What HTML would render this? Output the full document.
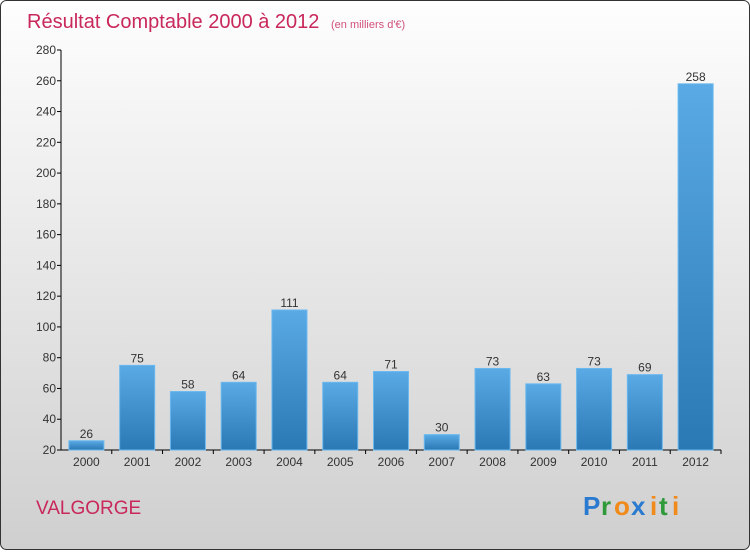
<!DOCTYPE html>
<html><head><meta charset="utf-8"><style>
body{margin:0;width:750px;height:550px;overflow:hidden;font-family:"Liberation Sans",sans-serif}
svg text{font-family:"Liberation Sans",sans-serif}
</style></head><body>
<svg width="750" height="550" xmlns="http://www.w3.org/2000/svg">
<defs>
<linearGradient id="bg" x1="0" y1="0" x2="0" y2="1"><stop offset="0" stop-color="#fefefe"/><stop offset="1" stop-color="#cfcfcf"/></linearGradient>
<linearGradient id="bar" x1="0" y1="0" x2="0" y2="1"><stop offset="0" stop-color="#5aaae6"/><stop offset="1" stop-color="#2a78b4"/></linearGradient>
</defs>
<rect x="0.5" y="0.5" width="749" height="549" rx="6" fill="url(#bg)" stroke="#333"/>
<text x="27" y="28" font-size="20" fill="#c8285a">Résultat Comptable 2000 à 2012 <tspan font-size="11" dx="6" fill="#d0507a">(en milliers d'€)</tspan></text>
<text x="36" y="514" font-size="19" fill="#c8285a">VALGORGE</text>
<g font-size="26" font-weight="bold">
<text x="583" y="515" fill="#2a7ad0">P</text><text x="601" y="515" fill="#2e9a3a">r</text><text x="614" y="515" fill="#f08a1a">o</text><text x="631" y="515" fill="#2a7ad0">x</text><text x="650" y="515" fill="#f08a1a">i</text><text x="659" y="515" fill="#2e9a3a">t</text><text x="672" y="515" fill="#f08a1a">i</text>
</g>
<g id="axes"></g><g id="bars"></g>
</svg>
<script>
const categories=["2000","2001","2002","2003","2004","2005","2006","2007","2008","2009","2010","2011","2012"];
const values=[26,75,58,64,111,64,71,30,73,63,73,69,258];
const yTicks=[20,40,60,80,100,120,140,160,180,200,220,240,260,280];
const NS="http://www.w3.org/2000/svg";
const x0=61,x1=721,yMin=20,yMax=280,py0=450,py1=50;
const step=(x1-x0)/categories.length;
function y(v){return py0-(v-yMin)/(yMax-yMin)*(py0-py1);}
function xc(i){return x0+step*(i+0.5);}
function mk(t,a,p){const e=document.createElementNS(NS,t);for(const k in a)e.setAttribute(k,a[k]);p.appendChild(e);return e;}
const ax=document.getElementById('axes'),bg=document.getElementById('bars');
const yl=mk('line',{x1:x0,y1:py1,x2:x0,y2:py0,stroke:'#000'},ax);


const xl=mk('line',{x1:x0,y1:py0,x2:x1,y2:py0,stroke:'#000'},ax);


yTicks.forEach(v=>{
 mk('line',{x1:x0-4,y1:y(v),x2:x0,y2:y(v),stroke:'#000'},ax);
 const t=mk('text',{x:x0-5,y:y(v)+4,'font-size':12,'text-anchor':'end',fill:'#333'},ax);t.textContent=v;
 
 
});
categories.forEach((c,i)=>{
 const t=mk('text',{x:xc(i),y:466,'font-size':12,'text-anchor':'middle',fill:'#333'},ax);t.textContent=c;
 
 
 mk('line',{x1:x0+step*(i+1),y1:py0,x2:x0+step*(i+1),y2:py0+4,stroke:'#000'},ax);
 const v=values[i];
 const r=mk('rect',{x:xc(i)-17.5,y:y(v),width:35,height:py0-y(v),fill:'url(#bar)',stroke:'#6ab8ee','stroke-width':1},bg);
 
 
 const l=mk('text',{x:xc(i),y:y(v)-3,'font-size':12,'text-anchor':'middle',fill:'#333'},bg);l.textContent=v;
 
 
});
</script>
</body></html>
